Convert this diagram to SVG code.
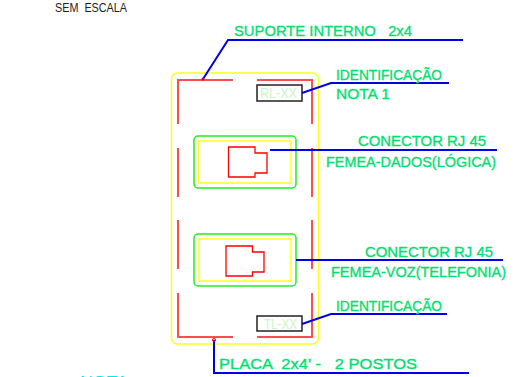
<svg xmlns="http://www.w3.org/2000/svg" width="528" height="377" viewBox="0 0 528 377">
<style>
text{white-space:pre}
.t{font-family:"Liberation Sans",Arial,sans-serif;font-size:15.500px;fill:#00e070;stroke:#00e070;stroke-width:.35}
.b{fill:none;stroke:#0000e6;stroke-width:2}
.r{fill:none;stroke:#ff4d4d;stroke-width:2}
.c{fill:none;stroke:#f00;stroke-width:1.3}
.y{fill:none;stroke:#ffff1a;stroke-width:1.500}
.g{fill:none;stroke:#22ee22;stroke-width:1.500}
.k{fill:#fff;stroke:#222;stroke-width:1.500}
.l{font-family:"Liberation Sans",Arial,sans-serif;font-size:14px;fill:#c8f5c8}
</style>
<rect width="528" height="377" fill="#fff"/>
<text x="55" y="12" font-family="'Liberation Sans',Arial,sans-serif" font-size="12" fill="#222" textLength="72" lengthAdjust="spacingAndGlyphs">SEM  ESCALA</text>
<g id="placa"><rect class="y" x="171.500" y="73" width="147" height="271" rx="6"/></g>
<g id="suporte">
<path class="r" d="M178 124V80H233M257 80H312V124M178 148V197M312 148V197M178 220V269M312 220V269M178 293V337H233M257 337H312V293"/>
</g>
<g id="conector-dados">
<rect class="g" x="194" y="136" width="102" height="52" rx="4"/>
<rect class="y" x="198.500" y="141" width="92.500" height="42"/>
<path class="c" d="M228.500 147V177H255V173H267V153H255V147Z"/>
</g>
<g id="conector-voz">
<rect class="g" x="194" y="234" width="102" height="52" rx="4"/>
<rect class="y" x="199" y="239" width="92" height="42"/>
<path class="c" d="M226 246V276H252.500V272H264V252H252.500V246Z"/>
</g>
<g id="etiqueta-rl"><rect class="k" x="257" y="85" width="45" height="16"/><text class="l" x="260" y="98" textLength="37" lengthAdjust="spacingAndGlyphs">RL-XX</text></g>
<g id="etiqueta-tl"><rect class="k" x="257" y="316" width="45" height="15"/><text class="l" x="264" y="329" textLength="33" lengthAdjust="spacingAndGlyphs">TL-XX</text></g>
<g id="connectors">
<path class="b" d="M203 79L228 40H463"/>
<path class="b" d="M302 93L331 83H449"/>
<path class="b" d="M270 150H497"/>
<path class="b" d="M296 260H503"/>
<path class="b" d="M302 324L331 314H447"/>
<path class="b" d="M214 340V373H469"/>
<circle cx="203" cy="79" r="1.500" fill="#e00000"/>
<circle cx="214" cy="340" r="1.500" fill="none" stroke="#e00000"/>
</g>
<g id="labels">
<text class="t" x="234" y="36" textLength="178" lengthAdjust="spacingAndGlyphs">SUPORTE INTERNO   2x4</text>
<text class="t" x="336" y="80" textLength="106" lengthAdjust="spacingAndGlyphs">IDENTIFICAÇÃO</text>
<text class="t" x="336" y="99" textLength="54" lengthAdjust="spacingAndGlyphs">NOTA 1</text>
<text class="t" x="358" y="146" textLength="128" lengthAdjust="spacingAndGlyphs">CONECTOR RJ 45</text>
<text class="t" x="326" y="167" textLength="170" lengthAdjust="spacingAndGlyphs">FEMEA-DADOS(LÓGICA)</text>
<text class="t" x="365" y="257" textLength="128" lengthAdjust="spacingAndGlyphs">CONECTOR RJ 45</text>
<text class="t" x="331" y="277" textLength="175" lengthAdjust="spacingAndGlyphs">FEMEA-VOZ(TELEFONIA)</text>
<text class="t" x="336" y="311" textLength="106" lengthAdjust="spacingAndGlyphs">IDENTIFICAÇÃO</text>
<text class="t" x="219" y="369" textLength="198" lengthAdjust="spacingAndGlyphs">PLACA  2x4' -   2 POSTOS</text>
<text x="80" y="386" font-family="'Liberation Sans',Arial,sans-serif" font-size="15.500" fill="#00e8f0" textLength="48" lengthAdjust="spacingAndGlyphs">NOTA</text>
</g>
</svg>
